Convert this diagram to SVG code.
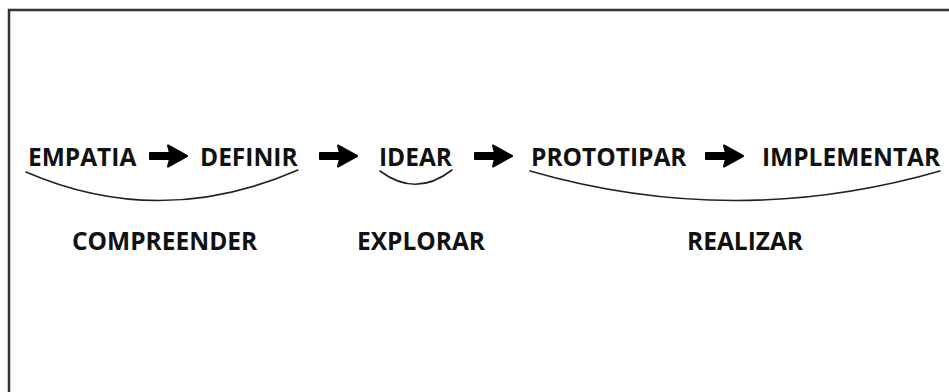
<svg xmlns="http://www.w3.org/2000/svg" width="949" height="392" viewBox="0 0 949 392">
<defs>
<style>
.t{font-family:"Open Sans","Liberation Sans",sans-serif;font-weight:700;font-size:24.5px;fill:#111}
.arc{fill:none;stroke:#222;stroke-width:1.6;stroke-linecap:round}
.ar{fill:#000;stroke:#000;stroke-width:2;stroke-linejoin:round}
</style>
<g id="arrowshape"><path d="M0,-3 L20,-3 L18,-10.5 L37,0 L18,10.5 L20,3 L0,3 Z"/></g>
</defs>
<rect width="949" height="392" fill="#fff"/>
<path d="M9,392 L9,10 L949,10" fill="none" stroke="#333" stroke-width="2.5"/>
<g id="empatia"><text class="t" x="28" y="166">EMPATIA</text></g>
<g id="definir"><text class="t" x="200" y="166">DEFINIR</text></g>
<g id="idear"><text class="t" x="379" y="166">IDEAR</text></g>
<g id="prototipar"><text class="t" x="531" y="166">PROTOTIPAR</text></g>
<g id="implementar"><text class="t" x="762" y="166">IMPLEMENTAR</text></g>
<g id="compreender"><text class="t" x="72" y="250">COMPREENDER</text></g>
<g id="explorar"><text class="t" x="357" y="250">EXPLORAR</text></g>
<g id="realizar"><text class="t" x="687" y="250">REALIZAR</text></g>
<g id="connectors">
<use href="#arrowshape" class="ar" transform="translate(150,156)"/>
<use href="#arrowshape" class="ar" transform="translate(320,156)"/>
<use href="#arrowshape" class="ar" transform="translate(475,156)"/>
<use href="#arrowshape" class="ar" transform="translate(706,156)"/>
<path class="arc" d="M26,172 Q160,230 298,170"/>
<path class="arc" d="M380,171 Q416,198 452,170"/>
<path class="arc" d="M530,171 Q735,230 940,171"/>
</g>
</svg>
